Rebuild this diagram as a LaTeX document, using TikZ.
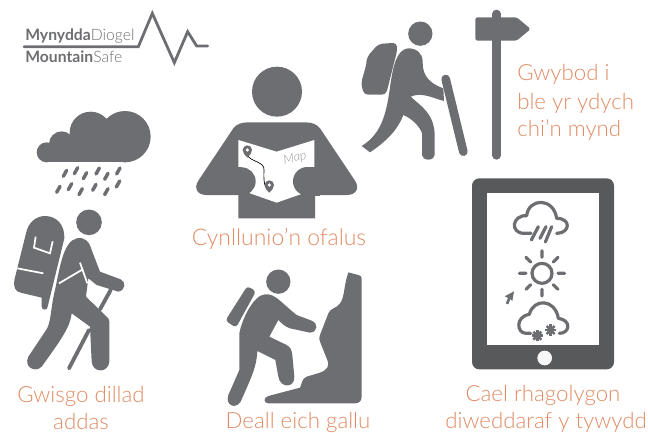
\documentclass[tikz,border=0pt]{standalone}
\usepackage{fontspec}
\setmainfont{Lato Light}
\newfontfamily\latoreg{Lato}
\definecolor{ic}{HTML}{6D6E71}
\definecolor{tb}{HTML}{58595B}
\definecolor{lab}{HTML}{E08B64}
\tikzset{
 lbl/.style={text=lab,font=\fontsize{16.7}{21.6}\selectfont,inner sep=0pt,align=center},
 lbll/.style={lbl,align=left},
 z/.style={shift={#1},scale=1/3},
 line/.style={ic,line width=#1,line cap=round,line join=round},
}
\begin{document}
\begin{tikzpicture}[x=0.75pt,y=-0.75pt]
\useasboundingbox (0,0) rectangle (648,432);
% logo
\node[anchor=base west,inner sep=0pt,text=ic,font=\fontsize{11.8}{14}\selectfont] (logoa) at (25,40) {{\latoreg\bfseries Mynydda}Diogel};
\node[anchor=base west,inner sep=0pt,text=ic,font=\fontsize{11.8}{14}\selectfont] (logob) at (25,62) {{\latoreg\bfseries Mountain}Safe};
\begin{scope}[z={(0,0)}]
\draw[ic,line width=2.1pt,line join=miter,line cap=round] (72,140) -- (415,140) -- (457,40) -- (523,188) -- (563,95) -- (590,138) -- (623,138);
\end{scope}
% map person
\begin{scope}[z={(190,60)}]
\fill[ic] (261,95) circle (75);
\fill[ic] (145,475) -- (145,405) -- (50,405) .. controls (22,405) and (10,385) .. (25,362) -- (130,205) .. controls (140,192) and (155,187) .. (175,187) -- (345,187) .. controls (365,187) and (380,192) .. (390,205) -- (495,362) .. controls (510,385) and (498,405) .. (470,405) -- (375,405) -- (375,475) -- cycle;
\fill[white] (145,240) -- (260,275) -- (373,240) -- (373,330) -- (340,400) -- (260,428) -- (180,400) -- (145,330) -- cycle;
\fill[ic] (155,364) circle (42);
\fill[ic] (352,364) circle (43);
\fill[ic] (120,322) rectangle (155,406);
\fill[ic] (352,321) rectangle (390,407);
\draw[black,line width=0.5pt] (172,285) .. controls (180,305) and (225,305) .. (222,330) .. controls (220,370) and (225,385) .. (238,395);
\fill[ic] (172,293) .. controls (165,285) and (158,280) .. (158,270) arc (180:360:14) .. controls (186,280) and (179,285) .. (172,293) -- cycle;
\fill[white] (172,270) circle (5.5);
\fill[ic] (238,398) .. controls (231,390) and (224,385) .. (224,375) arc (180:360:14) .. controls (252,385) and (245,390) .. (238,398) -- cycle;
\fill[white] (238,375) circle (5.5);
\node[rotate=12,inner sep=0pt,text=ic!70,font=\fontsize{9.5}{10}\itshape\selectfont] (maptext) at (315,295) {Map};
\end{scope}
\node[lbl,anchor=base,font=\fontsize{17.2}{21.6}\selectfont] (plan) at (279,245) {Cynllunio’n ofalus};
% walking hiker
\begin{scope}[z={(350,0)}]
\fill[ic] (211,101) circle (36.5);
\fill[ic,rounded corners=3] (140,128) -- (85,132) -- (50,172) -- (50,190) -- (33,250) -- (42,284) -- (108,284) -- (142,150) -- cycle;
\fill[ic] (175,145) .. controls (200,145) and (218,160) .. (218,185) .. controls (218,215) and (225,245) .. (280,265) -- (282,303) .. controls (250,295) and (215,275) .. (182,290) .. controls (215,320) and (250,340) .. (254,400) -- (254,465) arc (0:180:19 and 14) -- (216,400) .. controls (210,380) and (185,355) .. (160,345) .. controls (145,385) and (115,420) .. (60,457) -- (35,438) .. controls (80,410) and (100,370) .. (112,310) .. controls (125,250) and (125,150) .. (175,145) -- cycle;
\draw[line=6.5pt] (287,237) -- (340,455);
\draw[line=6.5pt] (440,42) -- (440,466);
\fill[ic,rounded corners=1.3] (376,52) -- (500,52) -- (542,87) -- (500,122) -- (376,122) -- cycle;
\end{scope}
\node[lbll,anchor=base west] (know) at (517,80) {Gwybod i};
\node[lbll,anchor=base west] (know2) at (517,109) {ble yr ydych};
\node[lbll,anchor=base west] (know3) at (517,136) {chi’n mynd};
% cloud and rain
\begin{scope}[z={(0,110)}]
\fill[ic] (140,127) circle (30) (185,102) circle (38) (272,68) circle (63) (375,80) circle (77);
\fill[ic] (140,100) rectangle (380,157);
\foreach \a/\b in {195/190,228/182,255/197,293/183,319/199,355/183,175/238,210/230,242/245,283/232,319/245,354/222}
  \draw[line=2.6pt] (\a+5,\b-9) -- (\a-5,\b+9);
% backpack hiker
\fill[ic] (267,337) circle (38.5);
\fill[ic] (78,370) .. controls (85,335) and (110,318) .. (135,318) .. controls (170,318) and (195,345) .. (193,385) -- (143,590) arc (0:180:9) -- (125,563) -- (62,548) .. controls (45,545) and (40,530) .. (43,510) -- cycle;
\draw[white,line width=1.3pt] (107,380) -- (102,413) -- (150,430) -- (158,394);
\draw[white,line width=1.3pt] (52,475) -- (130,490);
\fill[ic] (230,385) .. controls (255,380) and (268,395) .. (275,420) -- (300,485) -- (362,508) .. controls (378,515) and (378,540) .. (355,545) -- (290,525) -- (265,505) -- (258,560) -- (325,625) .. controls (330,630) and (328,640) .. (328,650) -- (328,755) .. controls (325,790) and (278,790) .. (275,755) -- (270,650) -- (215,610) .. controls (210,650) and (190,680) .. (125,770) .. controls (105,790) and (70,770) .. (85,740) -- (135,665) .. controls (155,640) and (150,600) .. (165,540) .. controls (180,470) and (190,395) .. (230,385) -- cycle;
\draw[white,line width=1.3pt] (177,520) -- (245,480) (240,458) -- (262,520);
\draw[line=2.9pt] (332,540) -- (300,598);
\draw[line=2.9pt] (267,660) -- (207,775);
\end{scope}
\node[lbl,anchor=base] (dress) at (81,402) {Gwisgo dillad};
\node[lbl,anchor=base] (dress2) at (81,429) {addas};
% climber
\begin{scope}[z={(200,260)}]
\fill[ic] (235,65) circle (36.5);
\fill[ic,rounded corners=2.5] (142,78) -- (168,94) -- (108,203) -- (76,182) -- cycle;
\fill[ic] (195,103) .. controls (225,100) and (240,125) .. (290,165) -- (335,182) .. controls (355,190) and (355,215) .. (330,218) -- (270,205) .. controls (255,200) and (245,190) .. (235,180) -- (208,230) -- (260,255) .. controls (272,262) and (275,270) .. (277,285) -- (283,350) .. controls (285,385) and (240,385) .. (235,350) -- (226,300) -- (172,273) .. controls (170,320) and (155,350) .. (122,425) .. controls (105,450) and (75,435) .. (85,405) -- (118,330) -- (118,220) .. controls (125,180) and (160,105) .. (195,103) -- cycle;
\fill[ic] (445,37) -- (475,45) .. controls (482,47) and (485,50) .. (485,55) -- (485,410) .. controls (485,425) and (475,430) .. (465,430) -- (205,430) .. controls (190,430) and (190,412) .. (205,408) -- (300,383) .. controls (305,375) and (305,355) .. (320,350) -- (360,338) .. controls (380,330) and (390,320) .. (382,300) -- (362,250) .. controls (355,235) and (358,230) .. (365,212) -- (385,160) .. controls (390,145) and (410,145) .. (420,130) .. controls (435,110) and (430,80) .. (445,37) -- cycle;
\end{scope}
\node[lbl,anchor=base] (able) at (298,428) {Deall eich gallu};
% tablet
\begin{scope}[z={(460,170)}]
\fill[tb,rounded corners=5.5] (36,25) rectangle (462,598);
\fill[white] (80,68) rectangle (417,525);
\fill[white!97!black] (254,564) circle (22);
\draw[line=2.4pt] (213,190) -- (192,190) .. controls (150,190) and (155,135) .. (200,137) .. controls (205,85) and (280,80) .. (290,145) .. controls (335,145) and (330,190) .. (290,190);
\draw[line=2.4pt] (235,170) -- (214,210) (258,170) -- (240,205) (275,170) -- (256,216);
\draw[line=2.4pt] (246,310) circle (30);
\draw[line=2.4pt] (246,242) -- (246,262) (246,358) -- (246,378) (178,310) -- (198,310) (294,310) -- (314,310) (198,262) -- (212,276) (294,262) -- (280,276) (198,358) -- (212,344) (294,358) -- (280,344);
\fill[ic] (162,364) -- (134,379) -- (144,384) -- (137,400) -- (145,403) -- (151,387) -- (157,393) -- cycle;
\draw[line=2.4pt] (212,490) -- (198,490) .. controls (170,490) and (165,440) .. (208,433) .. controls (220,385) and (285,385) .. (295,445) .. controls (335,450) and (330,490) .. (298,490);
\foreach \c/\d in {232/497,272/480}
  \foreach \t in {0,45,90,135}
    \draw[ic,line width=1.9pt] (\c,\d) ++(\t:17) -- ++(\t+180:34);
\end{scope}
\node[lbl,anchor=base] (fore) at (543,401) {Cael rhagolygon};
\node[lbl,anchor=base] (fore2) at (546,428) {diweddaraf y tywydd};
\end{tikzpicture}
\end{document}
